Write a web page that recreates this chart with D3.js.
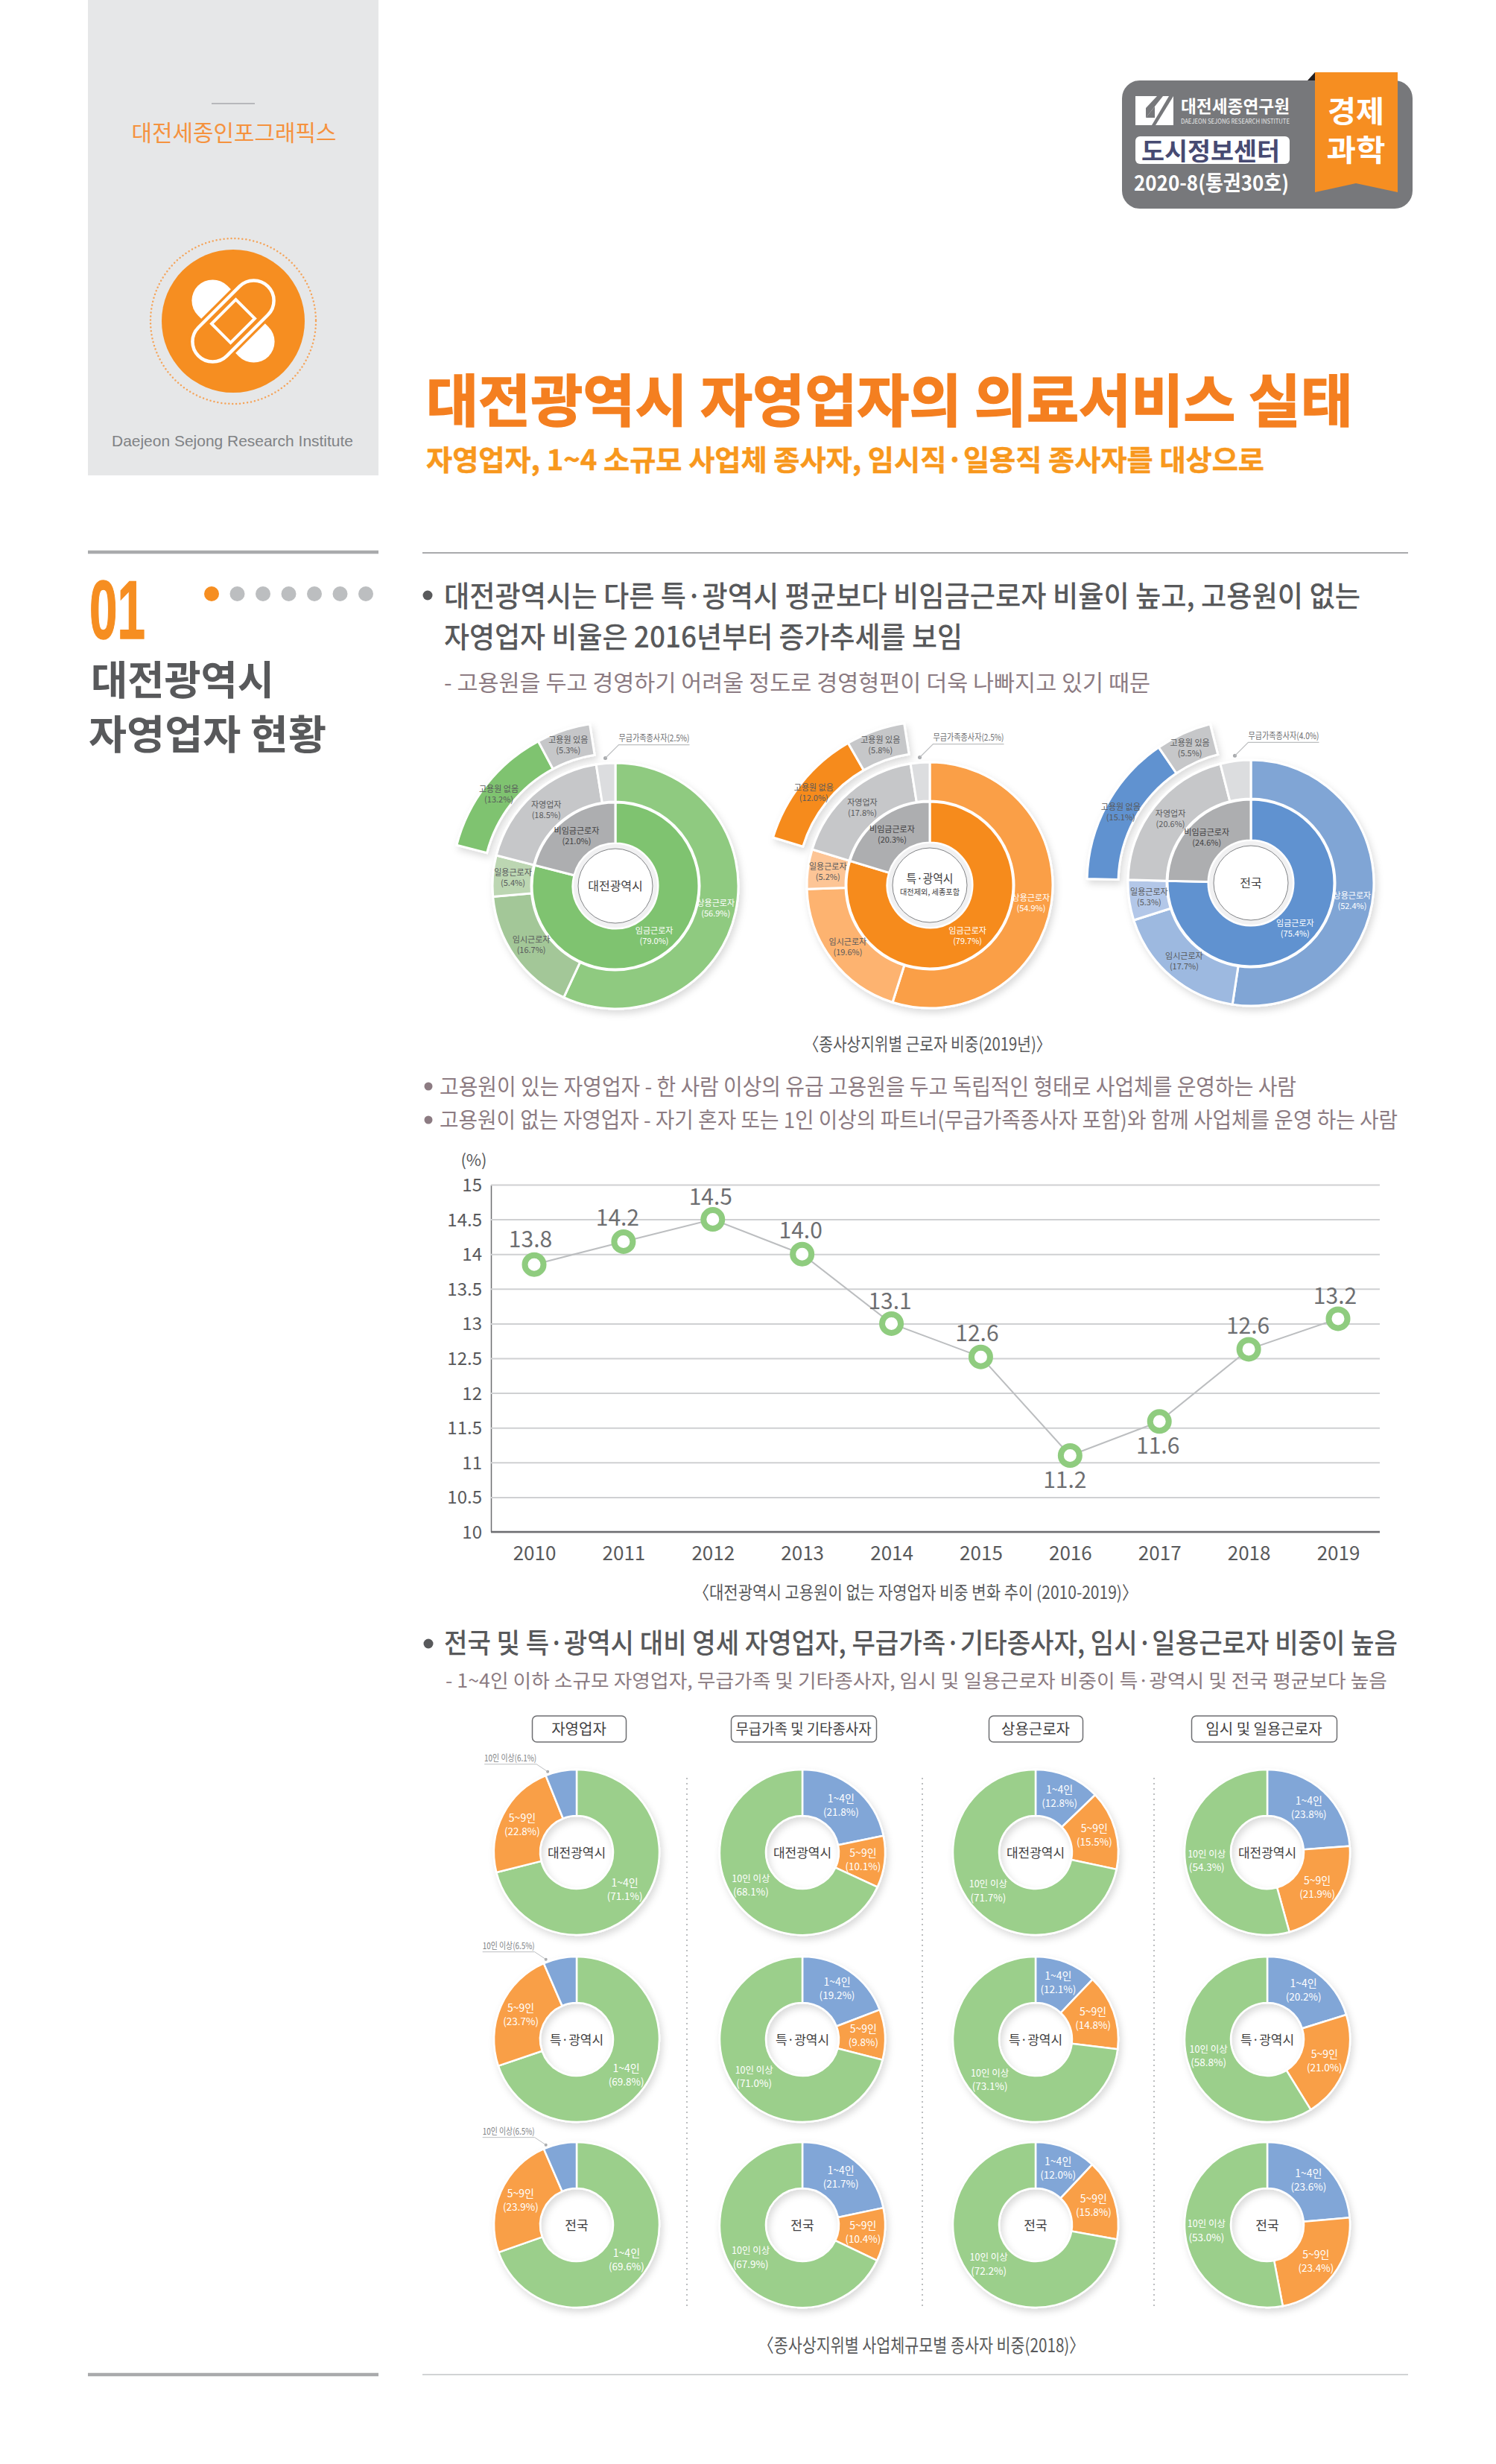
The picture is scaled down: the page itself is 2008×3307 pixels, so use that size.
<!DOCTYPE html>
<html>
<head>
<meta charset="utf-8">
<style>
body
{
  margin:0;
  background:#fff;
}
text
{
  font-family:"Noto Sans CJK KR","Noto Sans",sans-serif;
  dominant-baseline:central;
}
</style>
<script src="https://cdnjs.cloudflare.com/ajax/libs/d3/7.8.5/d3.min.js"></script>
</head>
<body>
<script>
// sunburst data (2019)
var sunTitles = ["대전광역시", "특·광역시", "전국"];
var sunOuterNames = ["상용근로자", "임시근로자", "일용근로자", "자영업자", "무급가족종사자"];
var sunInnerNames = ["임금근로자", "비임금근로자"];
var sunExtraNames = ["고용원 없음", "고용원 있음"];
var sunOuter = [[56.9, 16.7, 5.4, 18.5, 2.5], [54.9, 19.6, 5.2, 17.8, 2.5], [52.4, 17.7, 5.3, 20.6, 4.0]];
var sunInner = [[79.0, 21.0], [79.7, 20.3], [75.4, 24.6]];
var sunExtra = [[13.2, 5.3], [12.0, 5.8], [15.1, 5.5]];

// line chart data
var years = [2010, 2011, 2012, 2013, 2014, 2015, 2016, 2017, 2018, 2019];
var linePlotted = [13.85, 14.18, 14.5, 14.0, 13.0, 12.52, 11.1, 11.59, 12.63, 13.07];
var lineLabels = ["13.8", "14.2", "14.5", "14.0", "13.1", "12.6", "11.2", "11.6", "12.6", "13.2"];
var yTicks = [10, 10.5, 11, 11.5, 12, 12.5, 13, 13.5, 14, 14.5, 15];

// donut data (2018), one list per column then per row
var donutHeads = ["자영업자", "무급가족 및 기타종사자", "상용근로자", "임시 및 일용근로자"];
var donutRows = ["대전광역시", "특·광역시", "전국"];
var donutNames = ["1~4인", "5~9인", "10인 이상"];
var donutValues = [
  [[71.1, 22.8, 6.1], [69.8, 23.7, 6.5], [69.6, 23.9, 6.5]],
  [[21.8, 10.1, 68.1], [19.2, 9.8, 71.0], [21.7, 10.4, 67.9]],
  [[12.8, 15.5, 71.7], [12.1, 14.8, 73.1], [12.0, 15.8, 72.2]],
  [[23.8, 21.9, 54.3], [20.2, 21.0, 58.8], [23.6, 23.4, 53.0]]
];

var orange = "#f68e21";
var dark = "#58595b";
var mauve = "#8c7b82";

var svg = d3.select("body").append("svg")
  .attr("width", 2008)
  .attr("height", 3307)
  .style("display", "block");

var defs = svg.append("defs");
var shadow = defs.append("filter").attr("id", "soft")
  .attr("x", "-20%").attr("y", "-20%").attr("width", "140%").attr("height", "140%");
shadow.append("feDropShadow")
  .attr("dx", 3).attr("dy", 5).attr("stdDeviation", 5)
  .attr("flood-color", "#000").attr("flood-opacity", 0.14);

function txt(parent, x, y, str, size, fill, opt)
{
  opt = opt || {};
  var t = parent.append("text")
    .attr("x", x)
    .attr("y", y - (size >= 20 ? 3 : 1)) // central baseline of this font sits a little low
    .attr("font-size", size)
    .attr("fill", fill)
    .attr("font-weight", opt.weight || 400)
    .attr("text-anchor", opt.anchor || "middle")
    .text(str);
  if(opt.width)
  {
    t.attr("textLength", opt.width).attr("lengthAdjust", "spacingAndGlyphs");
  }
  if(opt.heavy)
  {
    t.attr("stroke", fill).attr("stroke-width", opt.heavy);
  }
  return t;
}

function hline(x1, x2, y, w, color)
{
  svg.append("line")
    .attr("x1", x1).attr("x2", x2)
    .attr("y1", y).attr("y2", y)
    .attr("stroke", color)
    .attr("stroke-width", w);
}

// left panel
svg.append("rect").attr("x", 118).attr("y", 0).attr("width", 390).attr("height", 638).attr("fill", "#e6e7e8");
hline(284, 342, 139, 1.5, "#a7a9ac");
txt(svg, 314, 179, "대전세종인포그래픽스", 30, "#f5923e", {width: 275});
txt(svg, 312, 594, "Daejeon Sejong Research Institute", 21, "#808285", {width: 324}).style("font-family", "Liberation Sans");

// bandage logo
var logo = svg.append("g").attr("transform", "translate(313,431)");
logo.append("circle").attr("r", 111).attr("fill", "none").attr("stroke", "#f5a45a")
  .attr("stroke-width", 2.5).attr("stroke-linecap", "round").attr("stroke-dasharray", "0 5");
logo.append("circle").attr("r", 96).attr("fill", orange);
logo.append("rect").attr("x", -67).attr("y", -28).attr("width", 134).attr("height", 56).attr("rx", 28)
  .attr("transform", "rotate(45)").attr("fill", "#fff");
logo.append("rect").attr("x", -66).attr("y", -27).attr("width", 132).attr("height", 54).attr("rx", 27)
  .attr("transform", "rotate(-45)").attr("fill", orange).attr("stroke", orange).attr("stroke-width", 11);
logo.append("rect").attr("x", -66).attr("y", -27).attr("width", 132).attr("height", 54).attr("rx", 27)
  .attr("transform", "rotate(-45)").attr("fill", orange).attr("stroke", "#fff").attr("stroke-width", 4.5);
logo.append("rect").attr("x", -23).attr("y", -18).attr("width", 46).attr("height", 36)
  .attr("transform", "rotate(-45)").attr("fill", "none").attr("stroke", "#fff").attr("stroke-width", 4);

// badge top right
var badge = svg.append("g");
badge.append("rect").attr("x", 1506).attr("y", 108).attr("width", 390).attr("height", 172).attr("rx", 24).attr("fill", "#77787b");
badge.append("path").attr("d", "M1755,108L1765,97V108Z").attr("fill", "#231f20");
badge.append("path").attr("d", "M1765,97H1876V258L1820,246L1765,258Z").attr("fill", orange);
txt(badge, 1820, 150, "경제", 40, "#fff", {weight: 700, width: 76});
txt(badge, 1820, 202, "과학", 40, "#fff", {weight: 700, width: 79});
badge.append("rect").attr("x", 1524).attr("y", 129).attr("width", 51).attr("height", 39).attr("fill", "#fff");
badge.append("path").attr("d", "M1553,129H1561L1538,158V145Z").attr("fill", "#77787b");
badge.append("path").attr("d", "M1538,158L1550,143V158Z").attr("fill", "#77787b");
badge.append("path").attr("d", "M1569,129H1575L1551,168H1546Z").attr("fill", "#77787b");
txt(badge, 1658, 144, "대전세종연구원", 23, "#fff", {weight: 700, width: 146});
txt(badge, 1658, 163, "DAEJEON SEJONG RESEARCH INSTITUTE", 8.5, "#e6e7e8", {width: 146});
badge.append("rect").attr("x", 1524).attr("y", 183).attr("width", 207).attr("height", 37).attr("rx", 6).attr("fill", "#fff");
txt(badge, 1625, 204, "도시정보센터", 33, "#474a72", {weight: 700, width: 186});
txt(badge, 1626, 247, "2020-8(통권30호)", 28, "#fff", {weight: 700, width: 208});

// headline
txt(svg, 572, 536, "대전광역시 자영업자의 의료서비스 실태", 76, "#f47f20", {weight: 700, anchor: "start", width: 1244, heavy: 1.5});
txt(svg, 572, 617, "자영업자, 1~4 소규모 사업체 종사자, 임시직·일용직 종사자를 대상으로", 38, "#f8981d", {weight: 700, anchor: "start", width: 1125, heavy: 0.5});

// section header
hline(118, 508, 741, 4.5, "#a9aaac");
hline(567, 1890, 742, 2, "#a9aaac");
txt(svg, 120, 821, "01", 112, orange, {weight: 700, anchor: "start", width: 75, heavy: 1.5})
  .style("font-family", "'Liberation Sans Narrow','Liberation Sans'");
var dotXs = d3.range(7).map(function(i){ return 284 + i * 34.5; });
svg.selectAll("circle.step").data(dotXs).enter().append("circle")
  .attr("class", "step")
  .attr("cx", function(d){ return d; })
  .attr("cy", 797)
  .attr("r", 10)
  .attr("fill", function(d, i){ return i == 0 ? orange : "#bcbec0"; });
txt(svg, 122, 912, "대전광역시", 54, dark, {weight: 700, anchor: "start", width: 246});
txt(svg, 119, 985, "자영업자 현황", 54, dark, {weight: 700, anchor: "start", width: 319});

// section text
function bullet(x, y, r, color)
{
  svg.append("circle").attr("cx", x).attr("cy", y).attr("r", r).attr("fill", color);
}
bullet(574, 799, 6.5, dark);
txt(svg, 596, 800, "대전광역시는 다른 특·광역시 평균보다 비임금근로자 비율이 높고, 고용원이 없는", 39, dark, {weight: 500, anchor: "start", width: 1230});
txt(svg, 596, 855, "자영업자 비율은 2016년부터 증가추세를 보임", 39, dark, {weight: 500, anchor: "start", width: 696});
txt(svg, 596, 917, "- 고용원을 두고 경영하기 어려울 정도로 경영형편이 더욱 나빠지고 있기 때문", 30, mauve, {anchor: "start", width: 948});

txt(svg, 1245, 1402, "〈종사상지위별 근로자 비중(2019년)〉", 24, dark, {width: 332});
bullet(575, 1458, 5.5, mauve);
txt(svg, 590, 1459, "고용원이 있는 자영업자 - 한 사람 이상의 유급 고용원을 두고 독립적인 형태로 사업체를 운영하는 사람", 30, mauve, {anchor: "start", width: 1150});
bullet(575, 1503, 5.5, mauve);
txt(svg, 590, 1504, "고용원이 없는 자영업자 - 자기 혼자 또는 1인 이상의 파트너(무급가족종사자 포함)와 함께 사업체를 운영 하는 사람", 29, mauve, {anchor: "start", width: 1286});

// sunbursts
var sunCenters = [[826, 1189], [1248, 1188], [1679, 1185]];
var sunMain = ["#7fc36f", "#f68b1f", "#6192d0"];
var sunColors = [
  ["#8fca80", "#a3c798", "#bcd6b2"],
  ["#fa9f46", "#fdb36f", "#fdc596"],
  ["#80a5d5", "#9db9e0", "#b3c7e8"]
];
var sunGrays = {inner: "#adaeb0", self: "#c6c7c9", unpaid: "#dcdddf"};
var sunAngle = d3.scaleLinear().domain([0, 100]).range([0, 2 * Math.PI]);

function sunLabel(g, point, name, value, fill)
{
  txt(g, point[0], point[1] - 7, name, 11, fill);
  txt(g, point[0], point[1] + 7, "(" + value.toFixed(1) + "%)", 11, fill);
}

sunTitles.forEach(function(title, k)
{
  var g = svg.append("g").attr("transform", "translate(" + sunCenters[k] + ")");
  var pie = d3.pie().sort(null);

  var extraStart = sunAngle(sunInner[k][0]);
  var extraEnd = sunAngle(sunInner[k][0] + d3.sum(sunExtra[k]));
  var extraArcs = pie.startAngle(extraStart).endAngle(extraEnd)(sunExtra[k]);
  pie.startAngle(0).endAngle(2 * Math.PI);
  var extraArc = d3.arc().innerRadius(178).outerRadius(220);
  var outerArc = d3.arc().innerRadius(113).outerRadius(165);
  var innerArc = d3.arc().innerRadius(57).outerRadius(112);

  var outerFill = sunColors[k].concat([sunGrays.self, sunGrays.unpaid]);
  var innerFill = [sunMain[k], sunGrays.inner];
  var extraFill = [sunMain[k], sunGrays.self];

  var marks = g.append("g").attr("filter", "url(#soft)");
  marks.selectAll("path.outer").data(pie(sunOuter[k])).enter().append("path")
    .attr("class", "outer")
    .attr("d", outerArc)
    .attr("fill", function(d, i){ return outerFill[i]; })
    .attr("stroke", "#fff").attr("stroke-width", 3);
  marks.selectAll("path.inner").data(pie(sunInner[k])).enter().append("path")
    .attr("class", "inner")
    .attr("d", innerArc)
    .attr("fill", function(d, i){ return innerFill[i]; })
    .attr("stroke", "#fff").attr("stroke-width", 3);
  marks.selectAll("path.extra").data(extraArcs).enter().append("path")
    .attr("class", "extra")
    .attr("d", extraArc)
    .attr("fill", function(d, i){ return extraFill[i]; })
    .attr("stroke", "#fff").attr("stroke-width", 3);

  g.append("circle").attr("r", 56).attr("fill", "#f1f1f2");
  g.append("circle").attr("r", 50).attr("fill", "#fff").attr("stroke", "#808285").attr("stroke-width", 1);

  if(k == 1)
  {
    txt(g, 0, -9, title, 16, "#414042", {width: 63});
    txt(g, 0, 9, "대전제외, 세종포함", 10, "#414042", {width: 80});
  }
  else
  {
    txt(g, 0, 0, title, 16, "#414042");
  }

  // labels sit on the middle of each ring
  var outerMid = d3.arc().innerRadius(138).outerRadius(138);
  pie(sunOuter[k]).forEach(function(d, i)
  {
    if(i == 4) return;
    var mid = (d.startAngle + d.endAngle) / 2;
    if(i == 0) mid = Math.max(mid, 1.745); // the wide slice keeps its label just below 3 o'clock
    var p = outerMid.centroid({startAngle: mid, endAngle: mid});
    sunLabel(g, p, sunOuterNames[i], d.value, i == 0 ? "#fff" : "#58595b");
  });
  var innerMid = d3.arc().innerRadius(85).outerRadius(85);
  pie(sunInner[k]).forEach(function(d, i)
  {
    sunLabel(g, innerMid.centroid(d), sunInnerNames[i], d.value, i == 0 ? "#fff" : "#414042");
  });
  var extraMid = d3.arc().innerRadius(199).outerRadius(199);
  extraArcs.forEach(function(d, i)
  {
    sunLabel(g, extraMid.centroid(d), sunExtraNames[i], d.value, "#58595b");
  });

  // unpaid family worker callout
  var unpaid = pie(sunOuter[k])[4];
  var callout = d3.arc().innerRadius(172).outerRadius(172)
    .centroid({startAngle: unpaid.startAngle, endAngle: unpaid.endAngle});
  var labelStr = sunOuterNames[4] + "(" + unpaid.value.toFixed(1) + "%)";
  g.append("circle").attr("cx", callout[0]).attr("cy", callout[1]).attr("r", 2.5).attr("fill", "#a7a9ac");
  g.append("path")
    .attr("d", d3.line()([callout, [callout[0] + 18, callout[1] - 18], [callout[0] + 113, callout[1] - 18]]))
    .attr("fill", "none").attr("stroke", "#bcbec0").attr("stroke-width", 1.2);
  txt(g, callout[0] + 18, callout[1] - 27, labelStr, 12, "#6d6e71", {anchor: "start", width: 95});
});

// line chart
var y = d3.scaleLinear().domain([10, 15]).range([2056, 1590]);
var x = d3.scalePoint().domain(years).range([717, 1796]);
var plotLeft = 659;
var plotRight = 1852;

var yAxis = svg.append("g")
  .attr("transform", "translate(" + plotLeft + ",0)")
  .call(d3.axisLeft(y).tickValues(yTicks).tickFormat(String).tickSizeInner(-(plotRight - plotLeft)).tickSizeOuter(0).tickPadding(12));
yAxis.selectAll(".tick line").attr("stroke", "#cfd0d2").attr("stroke-width", 2);
yAxis.selectAll(".tick text").attr("font-size", 24).attr("fill", "#58595b").attr("font-family", "Noto Sans CJK KR").attr("dy", "-0.08em");
yAxis.select(".domain").attr("stroke", "#6d6e71").attr("stroke-width", 1.5);

var xAxis = svg.append("g")
  .attr("transform", "translate(0,2056)")
  .call(d3.axisBottom(x).tickFormat(String).tickSize(0).tickPadding(16));
xAxis.select(".domain").attr("stroke", "#6d6e71").attr("stroke-width", 2.5).attr("d", "M" + plotLeft + ",0H" + plotRight);
xAxis.selectAll(".tick text").attr("font-size", 26).attr("fill", "#58595b").attr("font-family", "Noto Sans CJK KR").attr("dy", "0.42em");

txt(svg, 636, 1558, "(%)", 22, "#58595b");

svg.append("path")
  .attr("d", d3.line().x(function(d, i){ return x(years[i]); }).y(function(d){ return y(d); })(linePlotted))
  .attr("fill", "none")
  .attr("stroke", "#bcbec0")
  .attr("stroke-width", 2);

svg.selectAll("circle.pt").data(linePlotted).enter().append("circle")
  .attr("class", "pt")
  .attr("cx", function(d, i){ return x(years[i]); })
  .attr("cy", function(d){ return y(d); })
  .attr("r", 12.5)
  .attr("fill", "#fff")
  .attr("stroke", "#8fcc7f")
  .attr("stroke-width", 8);

// value labels, offset from their point to clear the line
var labelDx = [-5, -8, -3, -2, -2, -5, -7, -2, -1, -4];
var labelDy = [-36, -34, -33, -34, -32, -34, 31, 30, -34, -33];
svg.selectAll("text.val").data(lineLabels).enter().append("text")
  .attr("class", "val")
  .attr("x", function(d, i){ return x(years[i]) + labelDx[i]; })
  .attr("y", function(d, i){ return y(linePlotted[i]) + labelDy[i]; })
  .attr("text-anchor", "middle")
  .attr("font-size", 30)
  .attr("fill", "#6d6e71")
  .text(function(d){ return d; });

txt(svg, 1229, 2138, "〈대전광역시 고용원이 없는 자영업자 비중 변화 추이 (2010-2019)〉", 24, dark, {width: 596});

// third block heading
bullet(575, 2206, 6.5, dark);
txt(svg, 596, 2206, "전국 및 특·광역시 대비 영세 자영업자, 무급가족·기타종사자, 임시·일용근로자 비중이 높음", 37, dark, {weight: 500, anchor: "start", width: 1280});
txt(svg, 598, 2257, "- 1~4인 이하 소규모 자영업자, 무급가족 및 기타종사자, 임시 및 일용근로자 비중이 특·광역시 및 전국  평균보다 높음", 25, mauve, {anchor: "start", width: 1264});

// donut grid
var colX = [774, 1077, 1390, 1701];
var rowY = [2486, 2737, 2986];
var headBoxes = [[714, 126], [981, 195], [1327, 126], [1599, 195]];
var donutGreen = "#9bcf8b", donutOrange = "#f99f47", donutBlue = "#81a6d7";
var donutFills = [
  [donutGreen, donutOrange, donutBlue],
  [donutBlue, donutOrange, donutGreen],
  [donutBlue, donutOrange, donutGreen],
  [donutBlue, donutOrange, donutGreen]
];
var donutArc = d3.arc().innerRadius(49).outerRadius(111);
var donutMid = d3.arc().innerRadius(82).outerRadius(82);

[922, 1238, 1549].forEach(function(xp)
{
  svg.append("line").attr("x1", xp).attr("x2", xp).attr("y1", 2386).attr("y2", 3098)
    .attr("stroke", "#a7a9ac").attr("stroke-width", 1.5).attr("stroke-dasharray", "2 5");
});

donutHeads.forEach(function(head, c)
{
  svg.append("rect")
    .attr("x", headBoxes[c][0] + 0.5).attr("y", 2303)
    .attr("width", headBoxes[c][1]).attr("height", 35).attr("rx", 6)
    .attr("fill", "#fff").attr("stroke", "#6d6e71").attr("stroke-width", 1.5);
  txt(svg, headBoxes[c][0] + headBoxes[c][1] / 2, 2322, head, 20, "#414042", {width: c == 1 ? 182 : null});

  donutRows.forEach(function(row, r)
  {
    var g = svg.append("g").attr("transform", "translate(" + colX[c] + "," + rowY[r] + ")");
    var arcs = d3.pie().sort(null)(donutValues[c][r]);

    g.append("g").attr("filter", "url(#soft)")
      .selectAll("path").data(arcs).enter().append("path")
      .attr("d", donutArc)
      .attr("fill", function(d, i){ return donutFills[c][i]; })
      .attr("stroke", "#fff").attr("stroke-width", 2.5);

    txt(g, 0, 0, row, 17, "#414042");

    arcs.forEach(function(d, i)
    {
      var small = c == 0 && i == 2;
      if(small)
      {
        // thin slice, label goes outside with a leader
        var a = d.endAngle - (d.endAngle - d.startAngle) * 0.9;
        var dot = d3.arc().innerRadius(115).outerRadius(115).centroid({startAngle: a, endAngle: a});
        g.append("circle").attr("cx", dot[0]).attr("cy", dot[1]).attr("r", 2).attr("fill", "#a7a9ac");
        g.append("path")
          .attr("d", d3.line()([dot, [dot[0] - 15, dot[1] - 10], [dot[0] - 85, dot[1] - 10]]))
          .attr("fill", "none").attr("stroke", "#bcbec0").attr("stroke-width", 1);
        txt(g, dot[0] - 50, dot[1] - 18, donutNames[i] + "(" + d.value.toFixed(1) + "%)", 12, "#808285", {width: 70});
      }
      else
      {
        var p = donutMid.centroid(d);
        txt(g, p[0], p[1] - 9, donutNames[i], i == 2 ? 12.5 : 14, "#fff");
        txt(g, p[0], p[1] + 9, "(" + d.value.toFixed(1) + "%)", 13.5, "#fff");
      }
    });
  });
});

txt(svg, 1237, 3149, "〈종사상지위별 사업체규모별 종사자 비중(2018)〉", 25, dark, {width: 438});

// closing rules
hline(118, 508, 3187, 4.5, "#a9aaac");
hline(567, 1890, 3187, 2, "#d1d3d4");
</script>
</body>
</html>
